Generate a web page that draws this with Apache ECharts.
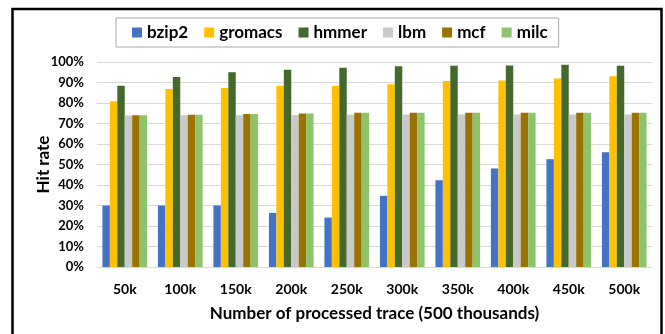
<!DOCTYPE html>
<html>
<head>
<meta charset="utf-8">
<script src="https://cdn.jsdelivr.net/npm/echarts@6/dist/echarts.min.js"></script>
<style>
	html, body { margin: 0; padding: 0; background: #fff; }
	#chart { width: 665px; height: 334px; }
</style>
</head>
<body>
<div id="chart"></div>
<script>
	// categories
	const traces = ['50k', '100k', '150k', '200k', '250k', '300k', '350k', '400k', '450k', '500k'];
	// hit rate (%) per benchmark
	const bzip2 = [30.0, 30.0, 30.0, 26.4, 24.1, 34.7, 42.3, 48.0, 52.6, 56.0];
	const gromacs = [80.8, 86.8, 87.3, 88.4, 88.4, 89.2, 90.7, 91.0, 92.0, 93.0];
	const hmmer = [88.4, 92.7, 95.0, 96.2, 97.2, 97.9, 98.2, 98.3, 98.7, 98.2];
	const lbm = [73.9, 74.0, 74.0, 74.2, 74.3, 74.4, 74.4, 74.4, 74.4, 74.4];
	const mcf = [74.0, 74.3, 74.6, 74.9, 75.2, 75.2, 75.2, 75.2, 75.2, 75.2];
	const milc = [74.0, 74.3, 74.6, 74.9, 75.2, 75.2, 75.2, 75.2, 75.2, 75.2];

	const seriesList = [
		{ name: 'bzip2', data: bzip2, color: '#4472C4' },
		{ name: 'gromacs', data: gromacs, color: '#FFC000' },
		{ name: 'hmmer', data: hmmer, color: '#436A2C' },
		{ name: 'lbm', data: lbm, color: '#C9C9C9' },
		{ name: 'mcf', data: mcf, color: '#9A7200' },
		{ name: 'milc', data: milc, color: '#8DC36A' }
	];

	const font = 'Lato, "Open Sans", sans-serif';
	let chart = echarts.init(document.getElementById('chart'));
	let option = {
		animation: false,
		textStyle: { fontFamily: font },
		graphic: [{
			type: 'rect',
			shape: { x: 12.5, y: 9, width: 649, height: 340 },
			style: { fill: 'none', stroke: '#000', lineWidth: 2.5 }
		}],
		legend: {
			top: 18,
			left: 116,
			padding: [6, 11, 6, 16],
			borderColor: '#a8a8a8',
			borderWidth: 1,
			itemWidth: 10,
			itemHeight: 10,
			itemGap: 16,
			icon: 'rect',
			textStyle: { fontFamily: font, fontWeight: 'bold', fontSize: 17, color: '#000', lineHeight: 17 },
			data: seriesList.map(s => s.name)
		},
		grid: { left: 97, right: 13, top: 62, bottom: 67 },
		xAxis: {
			type: 'category',
			data: traces,
			name: 'Number of processed trace (500 thousands)',
			nameLocation: 'middle',
			nameGap: 38,
			nameTextStyle: { fontFamily: font, fontWeight: 'bold', fontSize: 17, color: '#000' },
			axisLine: { lineStyle: { color: '#d9d9d9' } },
			axisTick: { show: false },
			axisLabel: { fontFamily: font, fontWeight: 'bold', fontSize: 14, color: '#000', margin: 15 }
		},
		yAxis: {
			type: 'value',
			min: 0,
			max: 100,
			interval: 10,
			name: 'Hit rate',
			nameLocation: 'middle',
			nameGap: 45,
			nameMoveOverlap: false,
			nameTextStyle: { fontFamily: font, fontWeight: 'bold', fontSize: 17, color: '#000' },
			axisLine: { show: false },
			axisTick: { show: false },
			axisLabel: { fontFamily: font, fontWeight: 'bold', fontSize: 13, color: '#000', margin: 13, formatter: '{value}%' },
			splitLine: { lineStyle: { color: '#d9d9d9' } }
		},
		series: seriesList.map(s => ({
			name: s.name,
			type: 'bar',
			data: s.data,
			barGap: '0%',
			barCategoryGap: '19.5%',
			itemStyle: { color: s.color }
		}))
	};
	chart.setOption(option);
</script>
</body>
</html>
